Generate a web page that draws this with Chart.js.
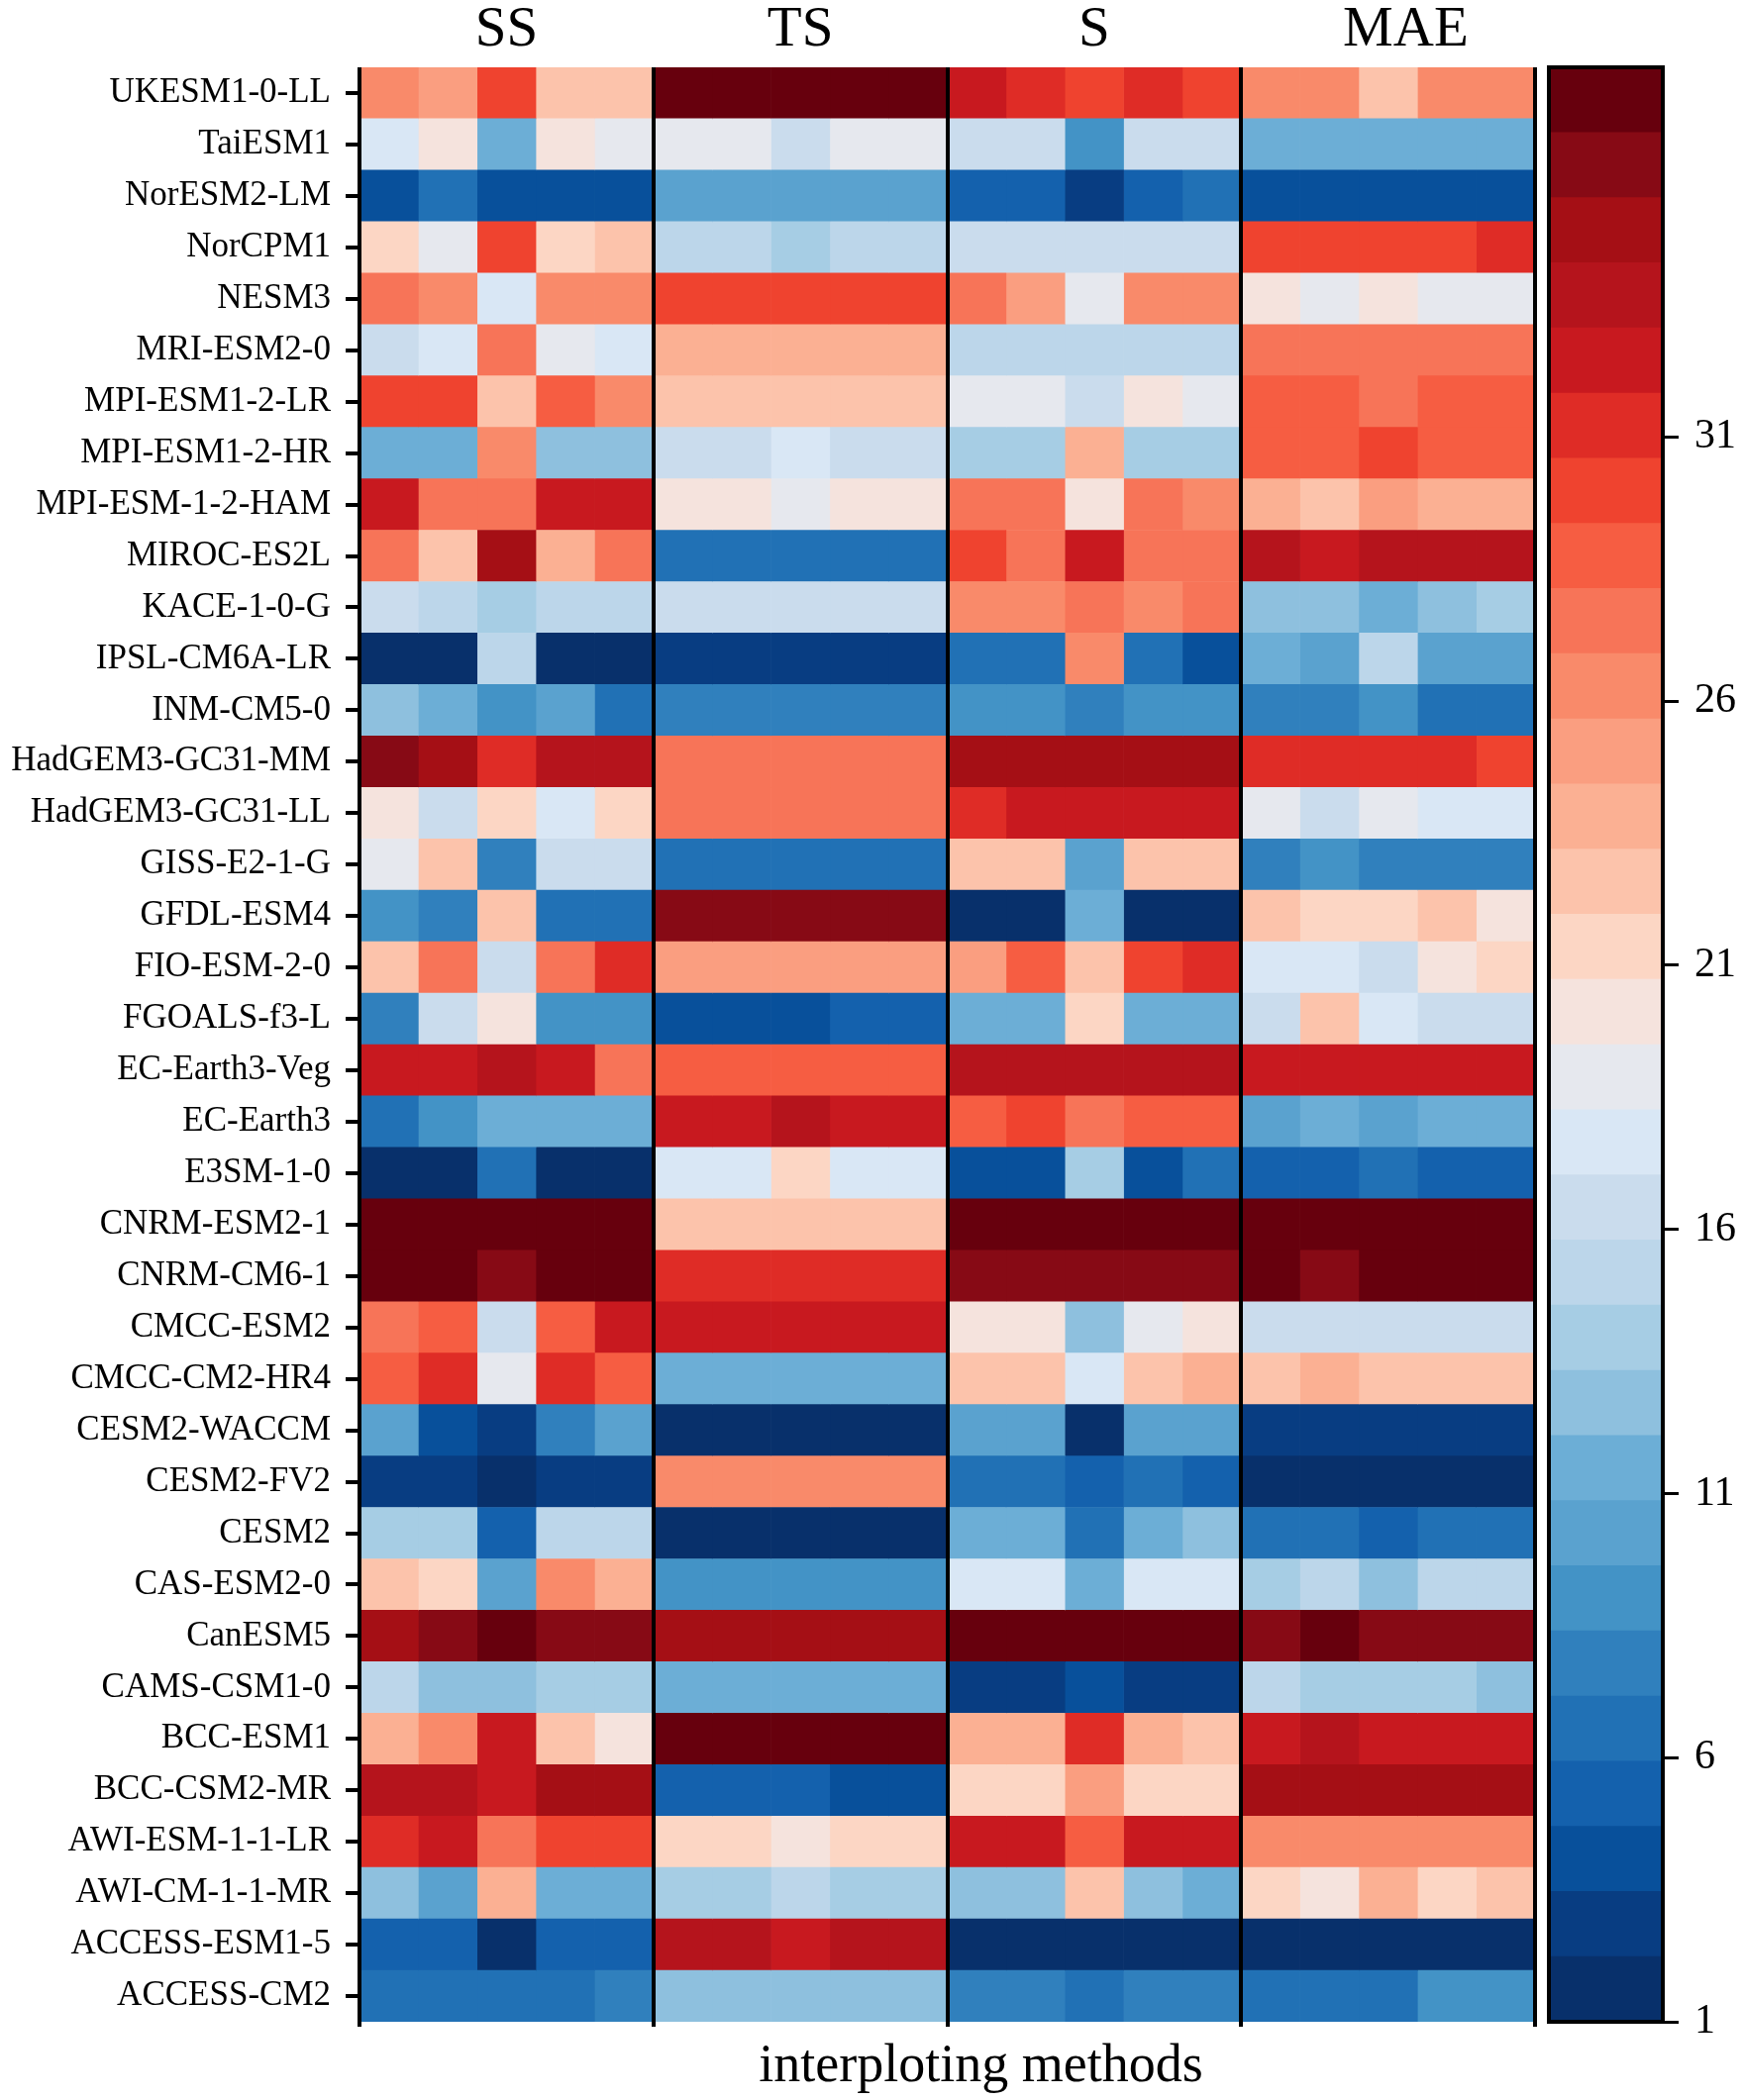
<!DOCTYPE html>
<html lang="en">
<head>
  <meta charset="UTF-8" />
  <title>Model rankings by interpolating method</title>
  <script src="https://cdn.jsdelivr.net/npm/chart.js"></script>
  <style>
    body { margin: 0; background: #fff; }
    .wrap { position: relative; width: 1760px; height: 2121px; }
    canvas { position: absolute; left: 0; top: 0; }
  </style>
</head>
<body>
  <div class="wrap">
    <canvas id="heat" width="1760" height="2121"></canvas>
    <canvas id="bar" width="1760" height="2121"></canvas>
  </div>

  <script>
    const models = ['UKESM1-0-LL', 'TaiESM1', 'NorESM2-LM', 'NorCPM1', 'NESM3', 'MRI-ESM2-0',
      'MPI-ESM1-2-LR', 'MPI-ESM1-2-HR', 'MPI-ESM-1-2-HAM', 'MIROC-ES2L', 'KACE-1-0-G',
      'IPSL-CM6A-LR', 'INM-CM5-0', 'HadGEM3-GC31-MM', 'HadGEM3-GC31-LL', 'GISS-E2-1-G',
      'GFDL-ESM4', 'FIO-ESM-2-0', 'FGOALS-f3-L', 'EC-Earth3-Veg', 'EC-Earth3', 'E3SM-1-0',
      'CNRM-ESM2-1', 'CNRM-CM6-1', 'CMCC-ESM2', 'CMCC-CM2-HR4', 'CESM2-WACCM', 'CESM2-FV2',
      'CESM2', 'CAS-ESM2-0', 'CanESM5', 'CAMS-CSM1-0', 'BCC-ESM1', 'BCC-CSM2-MR',
      'AWI-ESM-1-1-LR', 'AWI-CM-1-1-MR', 'ACCESS-ESM1-5', 'ACCESS-CM2'];

    const groups = ['SS', 'TS', 'S', 'MAE'];
    // where each group name sits along the 0..20 method axis
    const groupLabelPos = [2.5, 7.5, 12.5, 17.8];

    // ranks per model (rows) for the 5 interpolating methods of each group
    const ssRanks = [
      [26, 25, 30, 23, 23], [18, 20, 11, 20, 19], [4, 7, 4, 4, 4], [21, 19, 30, 21, 23],
      [28, 26, 18, 26, 26], [16, 18, 28, 19, 18], [30, 30, 23, 29, 26], [11, 11, 26, 13, 13],
      [32, 28, 28, 32, 32], [28, 23, 35, 24, 28], [16, 15, 14, 15, 15], [2, 2, 15, 2, 2],
      [13, 11, 9, 10, 7], [36, 35, 31, 34, 34], [20, 16, 21, 18, 21], [19, 23, 8, 16, 16],
      [9, 8, 23, 7, 7], [23, 28, 16, 28, 31], [8, 16, 20, 9, 9], [32, 32, 34, 32, 28],
      [7, 9, 11, 11, 11], [2, 2, 7, 2, 2], [38, 38, 38, 38, 38], [38, 38, 36, 37, 37],
      [28, 29, 16, 29, 32], [29, 31, 19, 31, 29], [10, 4, 3, 8, 10], [3, 3, 2, 3, 3],
      [14, 14, 5, 15, 15], [23, 21, 10, 26, 24], [35, 36, 37, 36, 36], [15, 13, 13, 14, 14],
      [24, 26, 32, 23, 20], [34, 34, 32, 35, 35], [31, 32, 28, 30, 30], [13, 10, 24, 11, 11],
      [5, 5, 2, 5, 5], [7, 7, 7, 7, 8]
    ];
    const tsRanks = [
      [38, 38, 38, 38, 38], [19, 19, 16, 19, 19], [10, 10, 10, 10, 10], [15, 15, 14, 15, 15],
      [30, 30, 30, 30, 30], [24, 24, 24, 24, 24], [23, 23, 23, 23, 23], [16, 16, 18, 16, 16],
      [20, 20, 19, 20, 20], [7, 7, 7, 7, 7], [16, 16, 16, 16, 16], [3, 3, 3, 3, 3],
      [8, 8, 8, 8, 8], [28, 28, 28, 28, 28], [28, 28, 28, 28, 28], [7, 7, 7, 7, 7],
      [36, 36, 36, 36, 36], [25, 25, 25, 25, 25], [4, 4, 4, 5, 5], [29, 29, 29, 29, 29],
      [32, 32, 34, 32, 32], [18, 18, 21, 18, 18], [23, 23, 23, 23, 23], [31, 31, 31, 31, 31],
      [32, 32, 32, 32, 32], [11, 11, 11, 11, 11], [2, 2, 2, 2, 2], [26, 26, 26, 26, 26],
      [2, 2, 2, 2, 2], [9, 9, 9, 9, 9], [35, 35, 35, 35, 35], [11, 11, 11, 11, 11],
      [38, 38, 38, 38, 38], [5, 5, 5, 4, 4], [21, 21, 20, 21, 21], [14, 14, 15, 14, 14],
      [34, 34, 32, 34, 34], [13, 13, 13, 13, 13]
    ];
    const sRanks = [
      [32, 31, 30, 31, 30], [16, 16, 9, 16, 16], [5, 5, 3, 5, 7], [16, 16, 16, 16, 16],
      [28, 25, 19, 26, 26], [15, 15, 15, 15, 15], [19, 19, 16, 20, 19], [14, 14, 24, 14, 14],
      [28, 28, 20, 28, 26], [30, 28, 32, 28, 28], [26, 26, 28, 26, 28], [7, 7, 26, 7, 4],
      [9, 9, 8, 9, 9], [35, 35, 35, 35, 35], [31, 32, 32, 32, 32], [23, 23, 10, 23, 23],
      [2, 2, 11, 2, 2], [25, 29, 23, 30, 31], [11, 11, 21, 11, 11], [34, 34, 34, 34, 34],
      [29, 30, 28, 29, 29], [4, 4, 14, 4, 7], [38, 38, 38, 38, 38], [36, 36, 36, 36, 36],
      [20, 20, 13, 19, 20], [23, 23, 18, 23, 24], [10, 10, 1, 10, 10], [7, 7, 5, 7, 5],
      [11, 11, 7, 11, 13], [18, 18, 11, 18, 18], [37, 37, 37, 37, 37], [3, 3, 4, 3, 3],
      [24, 24, 31, 24, 23], [21, 21, 25, 21, 21], [32, 32, 29, 32, 32], [13, 13, 23, 13, 11],
      [2, 2, 2, 2, 2], [8, 8, 7, 8, 8]
    ];
    const maeRanks = [
      [26, 26, 23, 26, 26], [11, 11, 11, 11, 11], [4, 4, 4, 4, 4], [30, 30, 30, 30, 31],
      [20, 19, 20, 19, 19], [28, 28, 28, 28, 28], [29, 29, 28, 29, 29], [29, 29, 30, 29, 29],
      [24, 23, 25, 24, 24], [34, 32, 34, 34, 34], [13, 13, 11, 13, 14], [11, 10, 15, 10, 10],
      [8, 8, 9, 7, 7], [31, 31, 31, 31, 30], [19, 16, 19, 18, 18], [8, 9, 8, 8, 8],
      [23, 21, 21, 23, 20], [18, 18, 16, 20, 21], [16, 23, 18, 16, 16], [32, 32, 32, 32, 32],
      [10, 11, 10, 11, 11], [5, 5, 7, 5, 5], [38, 38, 38, 38, 38], [37, 36, 37, 37, 37],
      [16, 16, 16, 16, 16], [23, 24, 23, 23, 23], [3, 3, 3, 3, 3], [2, 2, 2, 2, 2],
      [7, 7, 5, 7, 7], [14, 15, 13, 15, 15], [36, 37, 36, 36, 36], [15, 14, 14, 14, 13],
      [32, 34, 32, 32, 32], [35, 35, 35, 35, 35], [26, 26, 26, 26, 26], [21, 20, 24, 21, 23],
      [2, 2, 2, 2, 2], [7, 7, 7, 9, 9]
    ];

    const barTicks = [1, 6, 11, 16, 21, 26, 31];
    const rankMin = 1;
    const rankMax = 38;

    // 30 discrete steps, from rank 1 (bottom) to rank 38 (top)
    const bandColors = ['#08306b', '#083d82', '#08509b', '#1461ad', '#2171b5', '#3080bd',
      '#4393c6', '#5aa2cf', '#6caed6', '#8ec0de', '#a6cde4', '#bcd6ea', '#cadced', '#d9e7f5',
      '#e6e8ee', '#f5e3dd', '#fcd6c4', '#fcc3ab', '#fbb093', '#fa9e80', '#f98a6a', '#f77458',
      '#f65d42', '#ef432f', '#df2c26', '#c8191f', '#b5141c', '#a50f15', '#870a15', '#67000d'];

    const serif = '"Liberation Serif", "Times New Roman", serif';

    function colorFor(v) {
      const n = bandColors.length;
      const i = Math.floor((v - rankMin) / (rankMax - rankMin) * n);
      return bandColors[Math.max(0, Math.min(n - 1, i))];
    }

    const groupData = [ssRanks, tsRanks, sRanks, maeRanks];
    const heatSets = [];
    groupData.forEach(function (g, gi) {
      for (let k = 0; k < 5; k++) {
        const col = gi * 5 + k;
        heatSets.push({
          label: groups[gi] + ' ' + (k + 1),
          data: g.map(() => [col, col + 1]),
          backgroundColor: g.map(row => colorFor(row[k])),
          grouped: false,
          barPercentage: 1,
          categoryPercentage: 1,
          borderWidth: 0
        });
      }
    });

    const xTitle = {
      id: 'xTitle',
      afterDraw(chart) {
        const a = chart.chartArea;
        const ctx = chart.ctx;
        ctx.save();
        ctx.font = '54px ' + serif;
        ctx.fillStyle = '#000';
        ctx.textAlign = 'center';
        ctx.textBaseline = 'alphabetic';
        ctx.fillText('interploting methods', (a.left + a.right) / 2 + 34, a.bottom + 60);
        ctx.restore();
      }
    };

    new Chart(document.getElementById('heat'), {
      type: 'bar',
      data: { labels: models, datasets: heatSets },
      options: {
        indexAxis: 'y',
        responsive: false,
        animation: false,
        layout: { padding: { right: 210 } },
        plugins: { legend: { display: false }, tooltip: { enabled: false } },
        scales: {
          x: {
            type: 'linear', min: 0, max: 20,
            ticks: { stepSize: 5, display: false },
            grid: { color: '#000', lineWidth: 4, tickLength: 5, z: 1 },
            border: { display: false },
            afterFit(s) { s.height = 79; }
          },
          x2: {
            type: 'linear', position: 'top', min: 0, max: 20,
            afterBuildTicks(s) { s.ticks = groupLabelPos.map(v => ({ value: v })); },
            ticks: {
              font: { family: serif, size: 57 }, color: '#000', padding: 3,
              callback: (v, i) => groups[i]
            },
            grid: { display: false, drawTicks: false },
            border: { display: false },
            afterFit(s) { s.height = 68; }
          },
          y: {
            ticks: { font: { family: serif, size: 35 }, color: '#000', padding: 15 },
            grid: { offset: false, drawOnChartArea: false, color: '#000', lineWidth: 4, tickLength: 14 },
            border: { display: false },
            afterFit(s) { s.width = 363; }
          }
        }
      },
      plugins: [xTitle]
    });

    const frame = {
      id: 'frame',
      afterDraw(chart) {
        const a = chart.chartArea;
        const ctx = chart.ctx;
        ctx.save();
        ctx.strokeStyle = '#000';
        ctx.lineWidth = 4;
        ctx.strokeRect(a.left, a.top, a.right - a.left, a.bottom - a.top);
        ctx.restore();
      }
    };

    const step = (rankMax - rankMin) / bandColors.length;
    new Chart(document.getElementById('bar'), {
      type: 'bar',
      data: {
        labels: [''],
        datasets: bandColors.map((c, i) => ({
          data: [[rankMin + i * step, rankMin + (i + 1) * step]],
          backgroundColor: c,
          grouped: false,
          barPercentage: 1,
          categoryPercentage: 1,
          borderWidth: 0
        }))
      },
      options: {
        responsive: false,
        animation: false,
        layout: { padding: { left: 1564, top: 68, bottom: 79, right: 0 } },
        plugins: { legend: { display: false }, tooltip: { enabled: false } },
        scales: {
          x: { display: false },
          y: {
            type: 'linear', position: 'right', min: rankMin, max: rankMax,
            afterBuildTicks(s) { s.ticks = barTicks.map(v => ({ value: v })); },
            ticks: { font: { family: serif, size: 42 }, color: '#000', padding: 16 },
            grid: { drawOnChartArea: false, color: '#000', lineWidth: 3, tickLength: 16 },
            border: { display: false },
            afterFit(s) { s.width = 81; }
          }
        }
      },
      plugins: [frame]
    });
  </script>
</body>
</html>
